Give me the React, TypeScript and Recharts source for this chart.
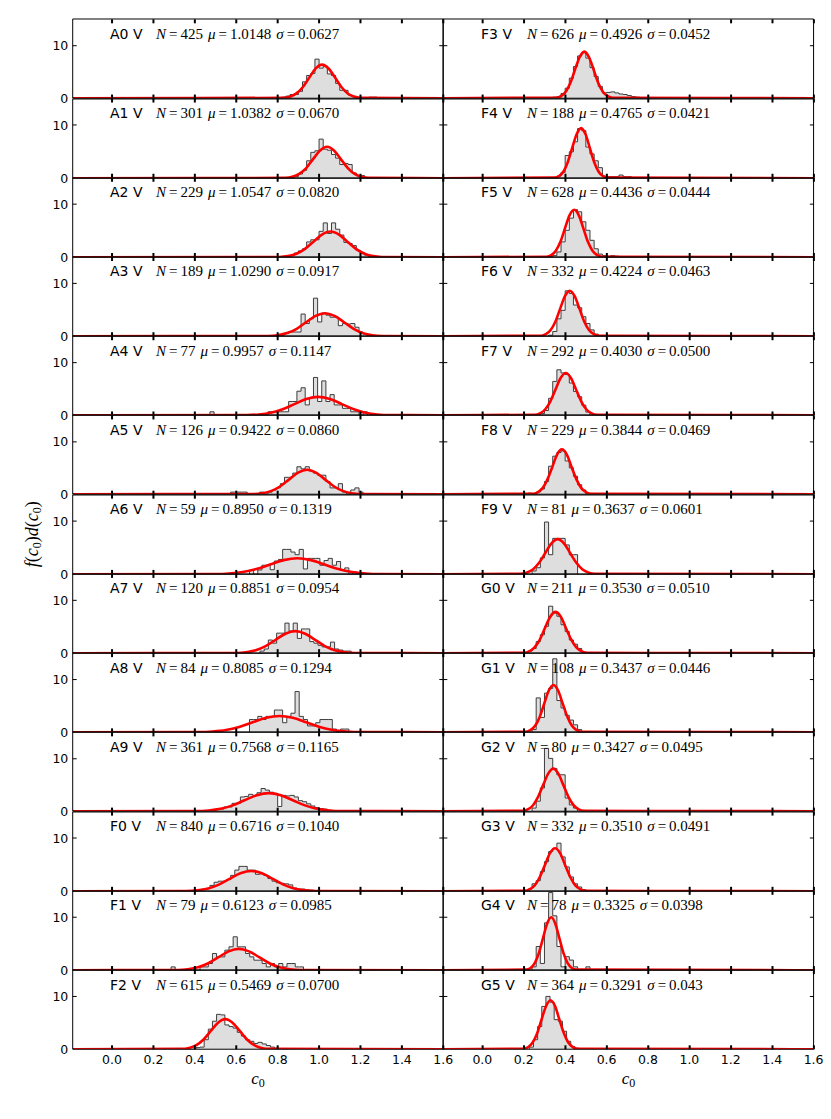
import { ComposedChart, Area, Line, XAxis, YAxis } from "recharts"

// c0 distributions per spectral type: normalised histograms + fitted normal curves
const X_MIN = -0.19
const X_MAX = 1.6
const Y_MAX = 15
const BIN_WIDTH = 0.02

const spectralTypes = [
  "A0 V", "A1 V", "A2 V", "A3 V", "A4 V", "A5 V", "A6 V", "A7 V", "A8 V", "A9 V", "F0 V", "F1 V", "F2 V",
  "F3 V", "F4 V", "F5 V", "F6 V", "F7 V", "F8 V", "F9 V", "G0 V", "G1 V", "G2 V", "G3 V", "G4 V", "G5 V",
]
const starCounts = [425, 301, 229, 189, 77, 126, 59, 120, 84, 361, 840, 79, 615, 626, 188, 628, 332, 292, 229, 81, 211, 108, 80, 332, 78, 364]
const fitMeans = [
  "1.0148", "1.0382", "1.0547", "1.0290", "0.9957", "0.9422", "0.8950", "0.8851", "0.8085", "0.7568", "0.6716", "0.6123", "0.5469",
  "0.4926", "0.4765", "0.4436", "0.4224", "0.4030", "0.3844", "0.3637", "0.3530", "0.3437", "0.3427", "0.3510", "0.3325", "0.3291",
]
const fitSigmas = [
  "0.0627", "0.0670", "0.0820", "0.0917", "0.1147", "0.0860", "0.1319", "0.0954", "0.1294", "0.1165", "0.1040", "0.0985", "0.0700",
  "0.0452", "0.0421", "0.0444", "0.0463", "0.0500", "0.0469", "0.0601", "0.0510", "0.0446", "0.0495", "0.0491", "0.0398", "0.043",
]

// left edge of the first bin of each histogram
const binStarts = [
  0.70, 0.88, 0.86, 0.793, 0.473, 0.573, 0.664, 0.715, 0.664, 0.50, 0.413, 0.285, 0.285,
  0.30, 0.36, 0.32, 0.32, 0.28, 0.22, 0.24, 0.22, 0.24, 0.24, 0.22, 0.24, 0.227,
]
const binHeights = [
  [0, 0.1, 0.1, 0, 0, 0, 0.2, 0.4, 0.7, 0.7, 1.3, 3.1, 4.3, 4.7, 7.4, 5.7, 6.1, 4.6, 4.3, 2.8, 1.5, 1.5, 0.6, 0.3, 0, 0, 0, 0.2, 0.2, 0.1],
  [0.3, 0.8, 1.5, 3.3, 4.9, 5.2, 7.4, 5.5, 5.3, 4.5, 3.8, 2.6, 2.8, 2.6, 1.0, 0.5, 0.5, 0.1],
  [0.3, 0.8, 1.2, 1.6, 2.9, 3.3, 3.3, 4.9, 6.5, 4.5, 6.5, 5.3, 4.2, 2.8, 2.6, 2.2, 1.3, 0.9, 0.4],
  [0.2, 0.2, 0.6, 0.8, 0.8, 0.8, 4.2, 2.4, 3.3, 7.2, 2.7, 4.4, 4.0, 3.6, 3.6, 2.0, 2.4, 2.3, 2.4, 1.7, 0.8, 0.4],
  [0.65, 0, 0, 0, 0, 0, 0, 0, 0, 0, 0, 0, 0, 0, 0.65, 0.65, 0.65, 0.65, 0.65, 2.6, 2.6, 4.55, 5.2, 1.95, 3.25, 7.15, 2.6, 6.5, 2.6, 3.9, 1.95, 1.95, 1.3, 1.3, 0.65, 0.65, 0, 0.65],
  [0.4, 0.4, 0.4, 0.4, 0, 0, 0, 0.4, 0, 0.4, 0.8, 1.2, 2.0, 3.2, 3.2, 4.0, 5.2, 4.8, 5.2, 4.4, 4.0, 3.6, 3.6, 2.4, 1.2, 1.2, 2.0, 0.4, 0, 0.8, 1.2, 0.4],
  [0.8, 0, 0.8, 1.7, 1.7, 0.85, 2.5, 2.8, 4.7, 4.7, 4.2, 3.7, 4.7, 1.0, 3.0, 3.0, 3.0, 1.7, 2.6, 3.0, 1.7, 2.4, 0.85, 1.2, 0, 0.4],
  [0.4, 0.8, 2.5, 1.9, 3.8, 3.8, 5.7, 4.2, 5.7, 2.8, 4.6, 4.6, 2.2, 1.9, 1.5, 1.2, 1.2, 2.1, 0.8, 0.6, 0.4, 0.4],
  [2.4, 2.4, 3.0, 2.4, 3.0, 3.0, 4.2, 4.2, 1.8, 3.0, 3.6, 7.7, 3.0, 2.4, 1.2, 1.2, 1.8, 2.4, 2.4, 2.4, 0.6, 0, 0.6, 0.6],
  [0.4, 0.4, 0.8, 0.8, 1.5, 1.5, 2.7, 2.8, 3.2, 3.0, 3.5, 4.3, 4.0, 3.6, 3.4, 0.9, 3.0, 2.9, 3.0, 2.7, 2.0, 1.8, 1.4, 1.0, 0.7, 0.5, 0.4, 0.2],
  [0.3, 0.4, 0.5, 1.1, 1.7, 1.9, 1.9, 2.2, 3.0, 4.0, 4.7, 4.7, 4.0, 4.0, 3.2, 3.3, 3.0, 2.4, 1.9, 1.6, 1.5, 1.4, 1.2, 0.6, 0.4, 0.4, 0.25, 0.2, 0.1, 0.1],
  [0.63, 0, 0, 0, 0, 0, 0, 0.63, 0.63, 1.27, 3.16, 2.53, 2.53, 3.8, 4.43, 6.33, 4.43, 4.43, 3.16, 2.53, 1.9, 1.9, 1.27, 0.63, 1.27, 0.63, 1.27, 0.63, 1.27, 1.27, 0.63, 0.63],
  [0.1, 0.1, 0.1, 0, 0, 0, 0.3, 0.4, 1.8, 3.8, 5.3, 6.6, 6.5, 4.6, 4.3, 4.0, 3.2, 2.5, 1.8, 1.5, 1.1, 1.3, 1.0, 0.7, 0.4, 0.2, 0.1, 0, 0.1, 0.1],
  [0.1, 0.1, 0.2, 0.3, 0.9, 1.9, 3.8, 6.0, 8.0, 8.6, 7.6, 5.8, 4.1, 2.2, 1.0, 1.1, 1.2, 1.0, 0.8, 0.7, 0.5, 0.3, 0.2, 0.1],
  [0.4, 1.1, 4.3, 5.0, 6.9, 9.4, 9.0, 5.9, 4.6, 3.3, 2.0, 0.4, 0.3, 0.3, 0.3, 0.6, 0.3, 0.3],
  [0.1, 0.3, 1.0, 2.9, 5.1, 7.4, 9.0, 8.6, 6.7, 5.1, 3.2, 1.6, 0.6, 0.3, 0.2, 0.3, 0.2, 0.1],
  [0.2, 0.9, 3.3, 4.9, 8.6, 8.1, 5.9, 5.4, 3.7, 2.4, 1.2, 0.4, 0.1],
  [0.3, 0.9, 3.2, 6.4, 8.6, 8.0, 7.7, 6.1, 4.5, 3.5, 1.9, 0.6],
  [0.2, 0, 0.4, 1.0, 2.4, 5.3, 7.2, 7.9, 8.2, 6.3, 5.0, 3.4, 1.8, 0.8],
  [0.62, 1.23, 3.09, 9.88, 3.7, 6.79, 6.79, 6.79, 5.55, 3.7, 3.7],
  [0.4, 0.9, 2.2, 3.5, 5.1, 8.9, 7.6, 7.0, 5.4, 4.1, 2.5, 1.7, 0.9, 0.2],
  [0.5, 6.5, 2.8, 7.4, 8.3, 13.9, 6.0, 4.6, 3.2, 2.3, 1.4, 0.5],
  [0.6, 1.9, 4.4, 11.9, 10.0, 8.1, 6.9, 6.9, 2.5, 1.2, 0.6],
  [0.4, 1.4, 2.0, 3.7, 5.6, 7.5, 8.1, 9.1, 6.5, 4.6, 2.7, 1.4, 0.8, 0.3],
  [0.64, 4.49, 1.28, 8.97, 14.7, 10.3, 4.49, 0.64, 2.56, 1.92, 0.64, 0, 0, 0.64],
  [0.4, 1.8, 4.3, 8.1, 10.0, 8.9, 5.6, 5.3, 3.4, 1.5, 0.5, 0.2],
]

// fitted curve, sampled points (c0, density)
const fitCurveX = [
  [0.827, 0.858, 0.889, 0.921, 0.952, 0.983, 1.015, 1.046, 1.078, 1.109, 1.140, 1.172, 1.203],
  [0.837, 0.871, 0.904, 0.938, 0.971, 1.005, 1.038, 1.072, 1.105, 1.139, 1.172, 1.206, 1.239],
  [0.809, 0.850, 0.891, 0.932, 0.973, 1.014, 1.055, 1.096, 1.137, 1.178, 1.219, 1.260, 1.301],
  [0.754, 0.800, 0.846, 0.892, 0.937, 0.983, 1.029, 1.075, 1.121, 1.167, 1.212, 1.258, 1.304],
  [0.652, 0.709, 0.766, 0.824, 0.881, 0.938, 0.996, 1.053, 1.110, 1.168, 1.225, 1.282, 1.340],
  [0.684, 0.727, 0.770, 0.813, 0.856, 0.899, 0.942, 0.985, 1.028, 1.071, 1.114, 1.157, 1.200],
  [0.499, 0.565, 0.631, 0.697, 0.763, 0.829, 0.895, 0.961, 1.027, 1.093, 1.159, 1.225, 1.291],
  [0.599, 0.647, 0.694, 0.742, 0.790, 0.837, 0.885, 0.933, 0.981, 1.028, 1.076, 1.124, 1.171],
  [0.420, 0.485, 0.550, 0.614, 0.679, 0.744, 0.809, 0.873, 0.938, 1.003, 1.067, 1.132, 1.197],
  [0.407, 0.466, 0.524, 0.582, 0.640, 0.699, 0.757, 0.815, 0.873, 0.932, 0.990, 1.048, 1.106],
  [0.360, 0.412, 0.464, 0.516, 0.568, 0.620, 0.672, 0.724, 0.776, 0.828, 0.880, 0.932, 0.984],
  [0.317, 0.366, 0.415, 0.465, 0.514, 0.563, 0.612, 0.662, 0.711, 0.760, 0.809, 0.859, 0.908],
  [0.337, 0.372, 0.407, 0.442, 0.477, 0.512, 0.547, 0.582, 0.617, 0.652, 0.687, 0.722, 0.757],
  [0.357, 0.380, 0.402, 0.425, 0.447, 0.470, 0.493, 0.515, 0.538, 0.560, 0.583, 0.606, 0.628],
  [0.350, 0.371, 0.392, 0.413, 0.434, 0.456, 0.477, 0.498, 0.519, 0.540, 0.561, 0.582, 0.603],
  [0.310, 0.333, 0.355, 0.377, 0.399, 0.421, 0.444, 0.466, 0.488, 0.510, 0.532, 0.555, 0.577],
  [0.284, 0.307, 0.330, 0.353, 0.376, 0.399, 0.422, 0.446, 0.469, 0.492, 0.515, 0.538, 0.561],
  [0.253, 0.278, 0.303, 0.328, 0.353, 0.378, 0.403, 0.428, 0.453, 0.478, 0.503, 0.528, 0.553],
  [0.244, 0.267, 0.291, 0.314, 0.338, 0.361, 0.384, 0.408, 0.431, 0.455, 0.478, 0.502, 0.525],
  [0.183, 0.213, 0.244, 0.274, 0.304, 0.334, 0.364, 0.394, 0.424, 0.454, 0.484, 0.514, 0.544],
  [0.200, 0.226, 0.251, 0.277, 0.302, 0.328, 0.353, 0.379, 0.404, 0.430, 0.455, 0.481, 0.506],
  [0.210, 0.232, 0.255, 0.277, 0.299, 0.321, 0.344, 0.366, 0.388, 0.411, 0.433, 0.455, 0.478],
  [0.194, 0.219, 0.244, 0.268, 0.293, 0.318, 0.343, 0.367, 0.392, 0.417, 0.442, 0.466, 0.491],
  [0.204, 0.228, 0.253, 0.277, 0.302, 0.326, 0.351, 0.376, 0.400, 0.425, 0.449, 0.474, 0.498],
  [0.213, 0.233, 0.253, 0.273, 0.293, 0.313, 0.333, 0.352, 0.372, 0.392, 0.412, 0.432, 0.452],
  [0.200, 0.222, 0.243, 0.265, 0.286, 0.308, 0.329, 0.351, 0.372, 0.394, 0.415, 0.437, 0.458],
]
const fitCurveY = [
  [0.07, 0.28, 0.86, 2.07, 3.86, 5.62, 6.36, 5.62, 3.86, 2.07, 0.86, 0.28, 0.07],
  [0.07, 0.26, 0.81, 1.93, 3.61, 5.25, 5.95, 5.25, 3.61, 1.93, 0.81, 0.26, 0.07],
  [0.05, 0.21, 0.66, 1.58, 2.95, 4.29, 4.87, 4.29, 2.95, 1.58, 0.66, 0.21, 0.05],
  [0.05, 0.19, 0.59, 1.41, 2.64, 3.84, 4.35, 3.84, 2.64, 1.41, 0.59, 0.19, 0.05],
  [0.04, 0.15, 0.47, 1.13, 2.11, 3.07, 3.48, 3.07, 2.11, 1.13, 0.47, 0.15, 0.04],
  [0.05, 0.2, 0.63, 1.51, 2.81, 4.09, 4.64, 4.09, 2.81, 1.51, 0.63, 0.2, 0.05],
  [0.03, 0.13, 0.41, 0.98, 1.83, 2.67, 3.03, 2.67, 1.83, 0.98, 0.41, 0.13, 0.03],
  [0.05, 0.18, 0.57, 1.36, 2.54, 3.69, 4.18, 3.69, 2.54, 1.36, 0.57, 0.18, 0.05],
  [0.03, 0.14, 0.42, 1.0, 1.87, 2.72, 3.08, 2.72, 1.87, 1.0, 0.42, 0.14, 0.03],
  [0.04, 0.15, 0.46, 1.11, 2.08, 3.02, 3.42, 3.02, 2.08, 1.11, 0.46, 0.15, 0.04],
  [0.04, 0.17, 0.52, 1.25, 2.33, 3.39, 3.84, 3.39, 2.33, 1.25, 0.52, 0.17, 0.04],
  [0.04, 0.18, 0.55, 1.32, 2.46, 3.57, 4.05, 3.57, 2.46, 1.32, 0.55, 0.18, 0.04],
  [0.06, 0.25, 0.77, 1.85, 3.46, 5.03, 5.7, 5.03, 3.46, 1.85, 0.77, 0.25, 0.06],
  [0.1, 0.39, 1.19, 2.87, 5.35, 7.79, 8.83, 7.79, 5.35, 2.87, 1.19, 0.39, 0.1],
  [0.11, 0.42, 1.28, 3.08, 5.75, 8.36, 9.48, 8.36, 5.75, 3.08, 1.28, 0.42, 0.11],
  [0.1, 0.39, 1.22, 2.92, 5.45, 7.93, 8.99, 7.93, 5.45, 2.92, 1.22, 0.39, 0.1],
  [0.1, 0.38, 1.17, 2.8, 5.23, 7.6, 8.62, 7.6, 5.23, 2.8, 1.17, 0.38, 0.1],
  [0.09, 0.35, 1.08, 2.59, 4.84, 7.04, 7.98, 7.04, 4.84, 2.59, 1.08, 0.35, 0.09],
  [0.09, 0.37, 1.15, 2.76, 5.16, 7.51, 8.51, 7.51, 5.16, 2.76, 1.15, 0.37, 0.09],
  [0.07, 0.29, 0.9, 2.16, 4.03, 5.86, 6.64, 5.86, 4.03, 2.16, 0.9, 0.29, 0.07],
  [0.09, 0.34, 1.06, 2.54, 4.74, 6.9, 7.82, 6.9, 4.74, 2.54, 1.06, 0.34, 0.09],
  [0.1, 0.39, 1.21, 2.9, 5.43, 7.89, 8.95, 7.89, 5.43, 2.9, 1.21, 0.39, 0.1],
  [0.09, 0.35, 1.09, 2.62, 4.89, 7.11, 8.06, 7.11, 4.89, 2.62, 1.09, 0.35, 0.09],
  [0.09, 0.36, 1.1, 2.64, 4.93, 7.17, 8.13, 7.17, 4.93, 2.64, 1.1, 0.36, 0.09],
  [0.11, 0.44, 1.36, 3.25, 6.08, 8.85, 10.02, 8.85, 6.08, 3.25, 1.36, 0.44, 0.11],
  [0.1, 0.41, 1.26, 3.01, 5.63, 8.19, 9.28, 8.19, 5.63, 3.01, 1.26, 0.41, 0.1],
]

const xTicks = [0, 0.2, 0.4, 0.6, 0.8, 1.0, 1.2, 1.4, 1.6]
const yTicks = [0, 10]
const yInnerTicks = [10]

// layout (px)
const ROWS = 13
const PLOT_TOP = 19.3
const PLOT_H = 79.23
const PLOT_W = 370.6
const PLOT_LEFT = [72.7, 443.3]
const PAD = 9
const TICK_PX = 4

const tickFont = { fill: "#000", fontSize: 12.5, fontFamily: "DejaVu Sans" }
const hiddenTick = { fill: "none" }
const blank = () => ""
const frameLine = { stroke: "#000", strokeWidth: 1 }

// same linear mapping as the panels' axes, used for the inward tick marks
const xPx = (col: number, v: number) => PLOT_LEFT[col] + ((v - X_MIN) / (X_MAX - X_MIN)) * PLOT_W
const yPx = (row: number, v: number) => PLOT_TOP + row * PLOT_H + PLOT_H * (1 - v / Y_MAX)

function histRows(i: number) {
  const start = binStarts[i]
  const heights = binHeights[i]
  const rows = [{ x: start, y: 0 }]
  heights.forEach((h, j) => rows.push({ x: start + j * BIN_WIDTH, y: h }))
  rows.push({ x: start + heights.length * BIN_WIDTH, y: 0 })
  return rows
}

function curveRows(i: number) {
  const rows = [{ x: X_MIN, y: 0 }]
  fitCurveX[i].forEach((x, j) => rows.push({ x, y: fitCurveY[i][j] }))
  rows.push({ x: X_MAX, y: 0 })
  return rows
}

function Panel({ index }: { index: number }) {
  const col = index < ROWS ? 0 : 1
  const row = index % ROWS
  const isBottom = row === ROWS - 1
  const plotLeft = PLOT_LEFT[col]
  const plotTop = PLOT_TOP + row * PLOT_H

  // thin axes draw the frame; the bottom/left ones also carry the labels
  const leftAxisW = col === 0 ? plotLeft : 1
  const bottomAxisH = isBottom ? 26 : 1
  const margin = {
    top: PAD - 1,
    bottom: isBottom ? 0 : PAD - 1,
    left: col === 0 ? 0 : 5,
    right: col === 0 ? 11 : 16,
  }
  const chartLeft = plotLeft - leftAxisW - margin.left
  const width = margin.left + leftAxisW + PLOT_W + 1 + margin.right
  const height = margin.top + 1 + PLOT_H + bottomAxisH + margin.bottom

  const xBase = { type: "number" as const, dataKey: "x", domain: [X_MIN, X_MAX], ticks: xTicks, allowDataOverflow: true, interval: 0, tickLine: false, axisLine: frameLine }
  const yBase = { type: "number" as const, domain: [0, Y_MAX], ticks: yTicks, allowDataOverflow: true, interval: 0, tickLine: false, axisLine: frameLine }
  const series = { xAxisId: "main", yAxisId: "main", dataKey: "y", dot: false, activeDot: false, isAnimationActive: false }

  return (
    <div style={{ position: "absolute", left: chartLeft, top: plotTop - PAD }}>
      <ComposedChart width={width} height={height} margin={margin}>
        <XAxis
          {...xBase}
          xAxisId="main"
          orientation="bottom"
          height={bottomAxisH}
          tickSize={0}
          tickMargin={6}
          tick={isBottom ? tickFont : hiddenTick}
          tickFormatter={isBottom ? (v: number) => v.toFixed(1) : blank}
        />
        <XAxis {...xBase} xAxisId="top" orientation="top" height={1} tickSize={0} tickMargin={0} tick={hiddenTick} tickFormatter={blank} />
        <YAxis
          {...yBase}
          yAxisId="main"
          orientation="left"
          width={leftAxisW}
          tickSize={0}
          tickMargin={4.4}
          tick={col === 0 ? tickFont : hiddenTick}
          tickFormatter={col === 0 ? (v: number) => String(v) : blank}
        />
        <YAxis {...yBase} yAxisId="right" orientation="right" width={1} tickSize={0} tickMargin={0} tick={hiddenTick} tickFormatter={blank} />
        <Area {...series} data={histRows(index)} type="stepAfter" fill="#dedede" fillOpacity={1} stroke="#3c3c3c" strokeWidth={1} />
        <Line {...series} data={curveRows(index)} type="monotone" stroke="#ff0000" strokeWidth={2.6} />
      </ComposedChart>
    </div>
  )
}

function PanelTicks({ index }: { index: number }) {
  const col = index < ROWS ? 0 : 1
  const row = index % ROWS
  const top = yPx(row, Y_MAX)
  const bottom = yPx(row, 0)
  const left = xPx(col, X_MIN)
  const right = xPx(col, X_MAX)
  return (
    <g stroke="#000">
      {xTicks.map((t) => (
        <g key={t} strokeWidth={2}>
          <line x1={xPx(col, t)} x2={xPx(col, t)} y1={bottom} y2={bottom - TICK_PX} />
          <line x1={xPx(col, t)} x2={xPx(col, t)} y1={top} y2={top + TICK_PX} />
        </g>
      ))}
      {yInnerTicks.map((t) => (
        <g key={t} strokeWidth={1}>
          <line x1={left} x2={left + TICK_PX} y1={yPx(row, t)} y2={yPx(row, t)} />
          <line x1={right} x2={right - TICK_PX} y1={yPx(row, t)} y2={yPx(row, t)} />
        </g>
      ))}
    </g>
  )
}

function PanelLabel({ index }: { index: number }) {
  const col = index < ROWS ? 0 : 1
  const row = index % ROWS
  const y = PLOT_TOP + row * PLOT_H + 19.5
  const nameX = col === 0 ? 110 : 481
  const mathX = col === 0 ? 156 : 527
  return (
    <g>
      <text x={nameX} y={y} fontFamily="DejaVu Sans" fontSize={14} fill="#000">
        {spectralTypes[index]}
      </text>
      <text x={mathX} y={y} fontFamily="Liberation Serif" fontSize={15} fill="#000">
        <tspan fontStyle="italic">N</tspan>
        <tspan dx={3}>=</tspan>
        <tspan dx={3}>{starCounts[index]}</tspan>
        <tspan dx={5} fontStyle="italic">μ</tspan>
        <tspan dx={3}>=</tspan>
        <tspan dx={3}>{fitMeans[index]}</tspan>
        <tspan dx={5} fontStyle="italic">σ</tspan>
        <tspan dx={3}>=</tspan>
        <tspan dx={3}>{fitSigmas[index]}</tspan>
      </text>
    </g>
  )
}

function AxisTitleC0({ x, y }: { x: number; y: number }) {
  return (
    <text x={x} y={y} textAnchor="middle" fontFamily="Liberation Serif" fontSize={17} fill="#000">
      <tspan fontStyle="italic">c</tspan>
      <tspan dy={3} fontSize={12}>0</tspan>
    </text>
  )
}

export default function App() {
  const panels = spectralTypes.map((_, i) => i)
  const midY = PLOT_TOP + (ROWS * PLOT_H) / 2
  return (
    <div style={{ position: "absolute", left: 0, top: 0, width: 831, height: 1119, background: "#fff" }}>
      {panels.map((i) => (
        <Panel key={i} index={i} />
      ))}
      <svg width={831} height={1119} style={{ position: "absolute", left: 0, top: 0, pointerEvents: "none" }}>
        {panels.map((i) => (
          <PanelTicks key={`t${i}`} index={i} />
        ))}
        {panels.map((i) => (
          <PanelLabel key={i} index={i} />
        ))}
        <AxisTitleC0 x={PLOT_LEFT[0] + PLOT_W / 2} y={1084} />
        <AxisTitleC0 x={PLOT_LEFT[1] + PLOT_W / 2} y={1084} />
        <text
          x={38}
          y={midY}
          transform={`rotate(-90 38 ${midY})`}
          textAnchor="middle"
          fontFamily="Liberation Serif"
          fontSize={18}
          fill="#000"
        >
          <tspan fontStyle="italic">f</tspan>
          <tspan>(</tspan>
          <tspan fontStyle="italic">c</tspan>
          <tspan dy={3} fontSize={12}>0</tspan>
          <tspan dy={-3}>)</tspan>
          <tspan fontStyle="italic">d</tspan>
          <tspan>(</tspan>
          <tspan fontStyle="italic">c</tspan>
          <tspan dy={3} fontSize={12}>0</tspan>
          <tspan dy={-3}>)</tspan>
        </text>
      </svg>
    </div>
  )
}
